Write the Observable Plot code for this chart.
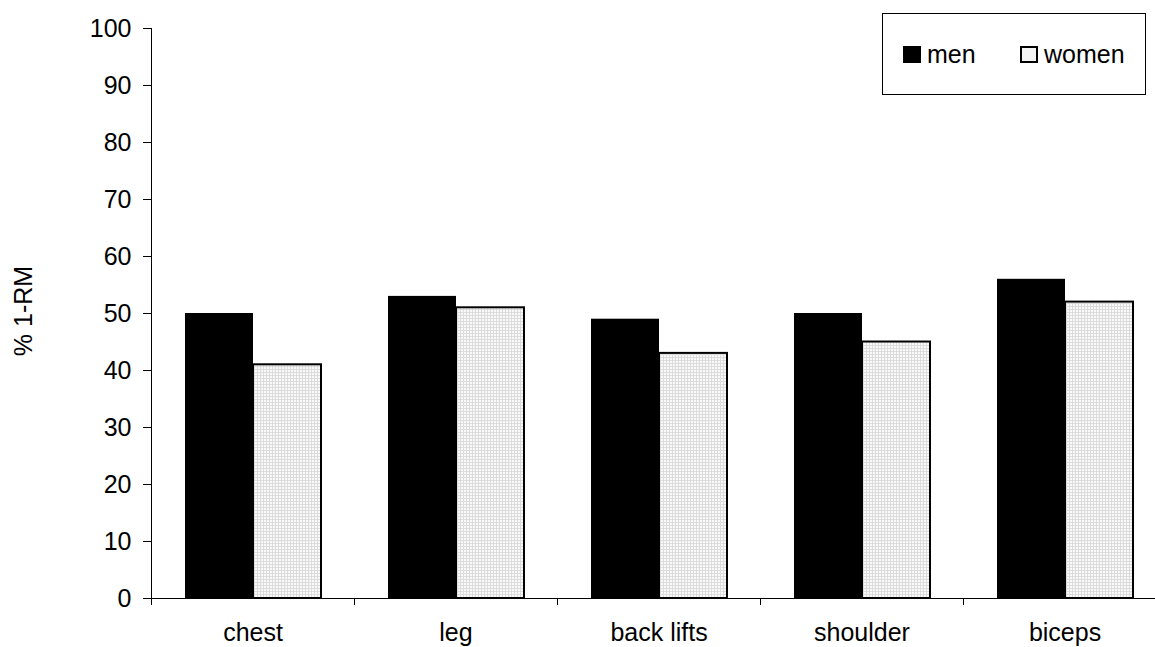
<!DOCTYPE html>
<html>
<head>
<meta charset="utf-8">
<script src="https://cdn.jsdelivr.net/npm/d3@7"></script>
<script src="https://cdn.jsdelivr.net/npm/@observablehq/plot@0.6"></script>
<style>
  html, body { margin: 0; padding: 0; background: #fff; }
  #wrap { position: relative; width: 1155px; height: 647px; overflow: hidden; font-family: "Liberation Sans", Arial, sans-serif; color: #000; }
  #ylabel { position: absolute; left: 23px; top: 311px; transform: translate(-50%, -50%) rotate(-90deg); font-size: 25px; white-space: nowrap; }
  #legend { position: absolute; left: 882px; top: 13px; width: 262px; height: 80px; border: 1.5px solid #000; background: #fff; box-sizing: content-box; font-size: 25px; }
  .item { position: absolute; top: 0; height: 80px; display: flex; align-items: center; }
  .sw { width: 18px; height: 17px; margin-right: 6px; box-sizing: border-box; }
</style>
</head>
<body>
<svg width="0" height="0" style="position:absolute">
  <defs>
    <pattern id="grid" width="3" height="3" patternUnits="userSpaceOnUse">
      <rect width="3" height="3" fill="#f9f9f9"></rect>
      <path d="M0 0.5H3M0.5 0V3" stroke="#dcdcdc" stroke-width="1"></path>
    </pattern>
  </defs>
</svg>
<div id="wrap">
  <div id="chart"></div>
  <div id="ylabel"></div>
  <div id="legend"></div>
</div>
<script>
const categories = ["chest", "leg", "back lifts", "shoulder", "biceps"];
const series = ["men", "women"];
const men = [50, 53, 49, 50, 56];
const women = [41, 51, 43, 45, 52];
const yTicks = [0, 10, 20, 30, 40, 50, 60, 70, 80, 90, 100];
const yLabel = "% 1-RM";

const rows = categories.flatMap((c, i) => [
  {category: c, sex: "men", value: men[i]},
  {category: c, sex: "women", value: women[i]}
]);

const plot = Plot.plot({
  width: 1155,
  height: 647,
  marginLeft: 149,
  marginRight: -13,
  marginTop: 28,
  marginBottom: 49,
  style: {fontFamily: "Liberation Sans, Arial, sans-serif", fontSize: "25px", color: "#000", background: "transparent"},
  fx: {domain: categories, padding: 0, label: null, tickSize: 0, tickPadding: 25},
  x: {domain: series, paddingInner: 0, paddingOuter: 0.487, axis: null},
  y: {domain: [0, 100], ticks: yTicks, tickSize: 8, tickPadding: 12, label: null},
  marks: [
    Plot.barY(rows, {filter: d => d.sex === "men", fx: "category", x: "sex", y: "value", fill: "#000"}),
    Plot.barY(rows, {filter: d => d.sex === "women", fx: "category", x: "sex", y: "value", fill: "url(#grid)", stroke: "#000", strokeWidth: 2}),
    Plot.ruleY([0], {stroke: "#000", strokeWidth: 1})
  ]
});
document.getElementById("chart").appendChild(plot);

// axis line and category boundary ticks, placed through the plot's own scales
const fx = plot.scale("fx");
const y = plot.scale("y");
const svg = d3.select(plot);
const x0 = fx.apply(categories[0]);
const bounds = categories.map(c => fx.apply(c)).concat([fx.apply(categories[categories.length - 1]) + fx.bandwidth]);
const g = svg.append("g").attr("stroke", "#000").attr("stroke-width", 1).attr("shape-rendering", "crispEdges");
g.append("line").attr("x1", x0).attr("x2", x0).attr("y1", y.apply(100)).attr("y2", y.apply(0) + 7);
g.append("line").attr("x1", x0).attr("x2", bounds[bounds.length - 1]).attr("y1", y.apply(0)).attr("y2", y.apply(0));
bounds.slice(1).forEach(b => g.append("line").attr("x1", b).attr("x2", b).attr("y1", y.apply(0)).attr("y2", y.apply(0) + 7));

document.getElementById("ylabel").textContent = yLabel;

const legend = document.getElementById("legend");
const legendLeft = [20, 137];
series.forEach((s, i) => {
  const item = document.createElement("div");
  item.className = "item";
  item.style.left = legendLeft[i] + "px";
  const sw = document.createElement("div");
  sw.className = "sw";
  if (s === "men") { sw.style.background = "#000"; }
  else { sw.style.background = "#f4f4f4"; sw.style.border = "2px solid #000"; }
  const t = document.createElement("span");
  t.textContent = s;
  item.appendChild(sw);
  item.appendChild(t);
  legend.appendChild(item);
});
</script>
</body>
</html>
